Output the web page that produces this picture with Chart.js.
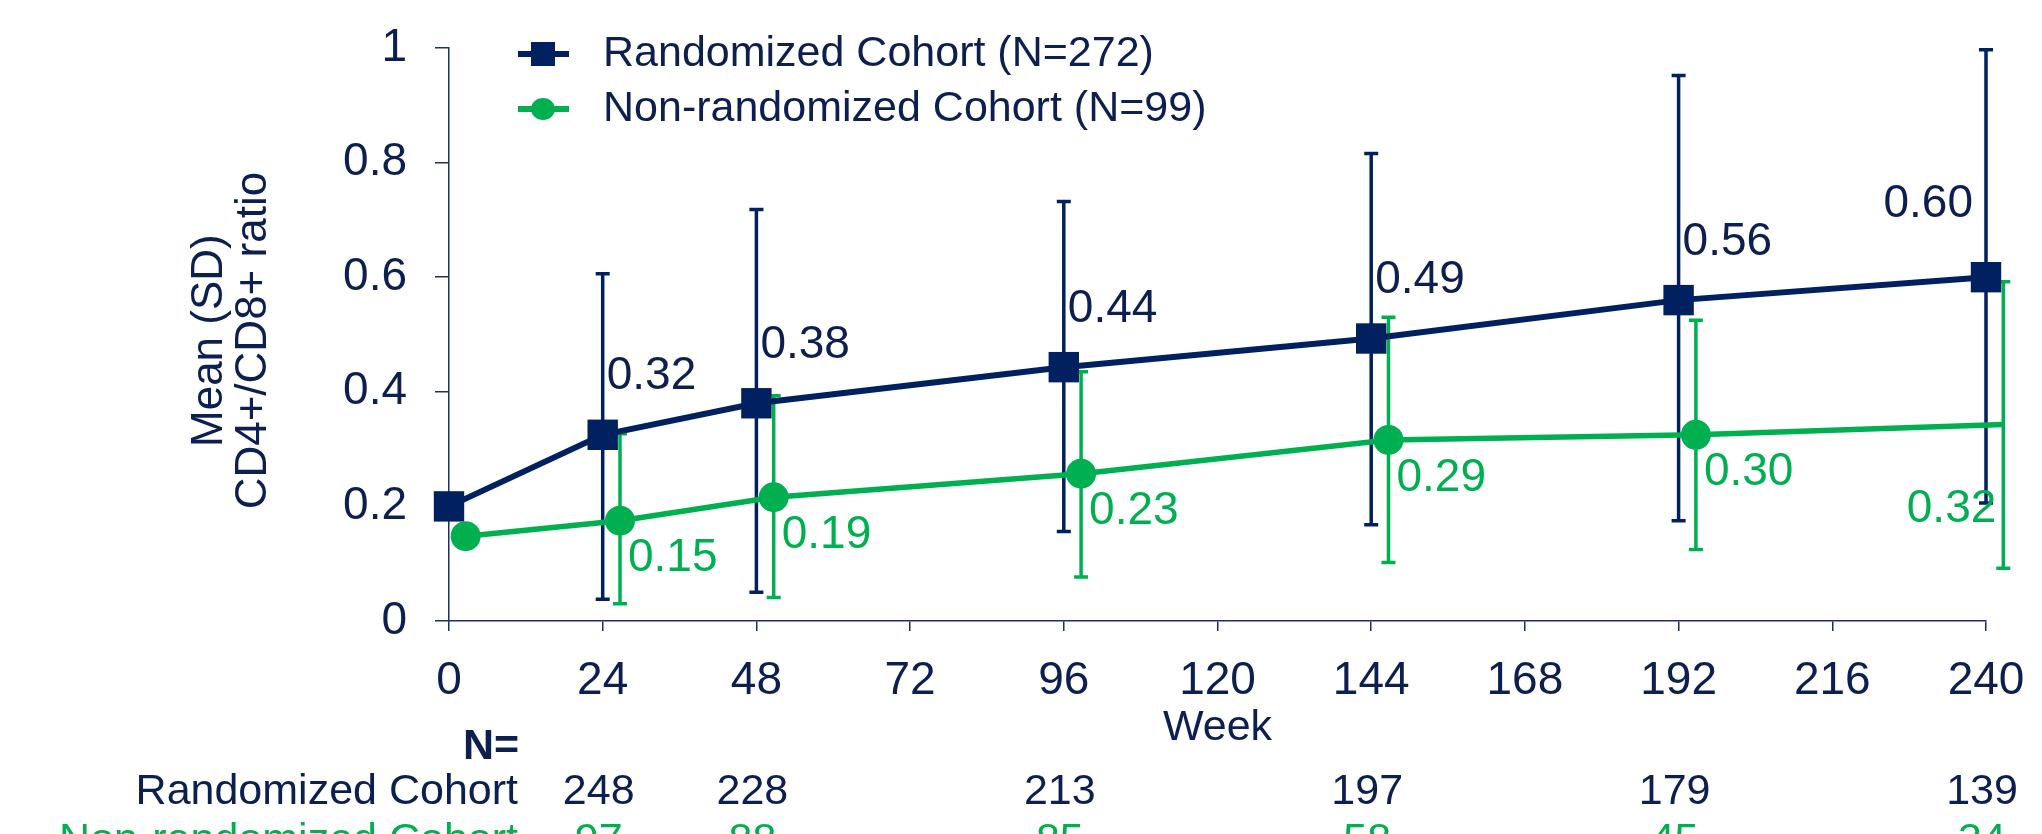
<!DOCTYPE html>
<html>
<head>
<meta charset="utf-8">
<script src="https://cdn.jsdelivr.net/npm/chart.js@4.4.0/dist/chart.umd.min.js"></script>
<style>
    html, body { margin: 0; padding: 0; background: #fff; }
</style>
</head>
<body>
<canvas id="chart-item" width="2042" height="834"></canvas>
<script>
// axis ticks
var weekTicks = [0, 24, 48, 72, 96, 120, 144, 168, 192, 216, 240];
var yTickLabels = ['0', '0.2', '0.4', '0.6', '0.8', '1'];

// Randomized Cohort (N=272)
var randWeeks = [0, 24, 48, 96, 144, 192, 240];
var randMean = [0.20, 0.325, 0.38, 0.443, 0.493, 0.56, 0.60];
var randLow = [null, 0.038, 0.05, 0.156, 0.168, 0.175, 0.206];
var randHigh = [null, 0.606, 0.718, 0.732, 0.816, 0.952, 0.997];
var randLabels = ['', '0.32', '0.38', '0.44', '0.49', '0.56', '0.60'];

// Non-randomized Cohort (N=99), drawn slightly to the right of each week
var nonRandWeeks = [2.6, 26.7, 50.7, 98.7, 146.7, 194.7, 242.7];
var nonRandMean = [0.148, 0.175, 0.216, 0.257, 0.316, 0.325, 0.343];
var nonRandLow = [null, 0.03, 0.041, 0.077, 0.102, 0.125, 0.092];
var nonRandHigh = [null, 0.327, 0.393, 0.435, 0.53, 0.525, 0.592];
var nonRandLabels = ['', '0.15', '0.19', '0.23', '0.29', '0.30', '0.32'];

// numbers at risk
var nTableWeeks = [24, 48, 96, 144, 192, 240];
var nRandomized = [248, 228, 213, 197, 179, 139];
var nNonRandomized = [97, 88, 85, 58, 45, 34];

var NAVY = '#002060';
var GREEN = '#00b050';
var TEXT = '#0c1f4f';
var FONT = '"Liberation Sans", Arial, Helvetica, sans-serif';

function toPoints(xs, ys) {
    var out = [];
    for (var i = 0; i < xs.length; i++) {
        out.push({x: xs[i], y: ys[i]});
    }
    return out;
}

// keep the plot box where the layout padding puts it
function noScalePadding(scale) {
    scale.paddingTop = 0;
    scale.paddingBottom = 0;
    scale.paddingLeft = 0;
    scale.paddingRight = 0;
}

// error bars, drawn under the lines
var errorBarPlugin = {
    id: 'errorBars',
    beforeDatasetsDraw: function (chart) {
        var ctx = chart.ctx;
        var xs = chart.scales.x, ys = chart.scales.y;
        var sets = [
            {w: nonRandWeeks, lo: nonRandLow, hi: nonRandHigh, color: GREEN},
            {w: randWeeks, lo: randLow, hi: randHigh, color: NAVY}
        ];
        ctx.save();
        sets.forEach(function (s) {
            ctx.strokeStyle = s.color;
            ctx.lineWidth = 3.5;
            for (var i = 0; i < s.w.length; i++) {
                if (s.lo[i] === null) continue;
                var px = xs.getPixelForValue(s.w[i]);
                var y1 = ys.getPixelForValue(s.lo[i]);
                var y2 = ys.getPixelForValue(s.hi[i]);
                ctx.beginPath();
                ctx.moveTo(px, y1); ctx.lineTo(px, y2);
                ctx.moveTo(px - 7, y1); ctx.lineTo(px + 7, y1);
                ctx.moveTo(px - 7, y2); ctx.lineTo(px + 7, y2);
                ctx.stroke();
            }
        });
        ctx.restore();
    }
};

// value labels next to the points
var valueLabelPlugin = {
    id: 'valueLabels',
    afterDatasetsDraw: function (chart) {
        var ctx = chart.ctx;
        ctx.save();
        ctx.font = '46px ' + FONT;
        ctx.textBaseline = 'middle';
        var rand = chart.getDatasetMeta(1).data;
        ctx.fillStyle = TEXT;
        for (var i = 0; i < rand.length; i++) {
            if (!randLabels[i]) continue;
            if (i === rand.length - 1) {
                ctx.textAlign = 'right';
                ctx.fillText(randLabels[i], rand[i].x - 13, rand[i].y - 73);
            } else {
                ctx.textAlign = 'left';
                ctx.fillText(randLabels[i], rand[i].x + 4, rand[i].y - 58);
            }
        }
        var nonRand = chart.getDatasetMeta(0).data;
        ctx.fillStyle = GREEN;
        for (var j = 0; j < nonRand.length; j++) {
            if (!nonRandLabels[j]) continue;
            if (j === nonRand.length - 1) {
                ctx.textAlign = 'right';
                ctx.fillText(nonRandLabels[j], nonRand[j].x - 7, nonRand[j].y + 85);
            } else {
                ctx.textAlign = 'left';
                ctx.fillText(nonRandLabels[j], nonRand[j].x + 8, nonRand[j].y + 38);
            }
        }
        ctx.restore();
    }
};

// legend in the top left of the plot
var legendPlugin = {
    id: 'legendBox',
    afterDraw: function (chart) {
        var ctx = chart.ctx;
        var rows = [
            {text: chart.data.datasets[1].label, color: NAVY, style: 'rect', y: 54},
            {text: chart.data.datasets[0].label, color: GREEN, style: 'circle', y: 109}
        ];
        ctx.save();
        rows.forEach(function (r) {
            ctx.strokeStyle = r.color;
            ctx.fillStyle = r.color;
            ctx.lineWidth = 6;
            ctx.beginPath();
            ctx.moveTo(518, r.y); ctx.lineTo(569, r.y);
            ctx.stroke();
            if (r.style === 'rect') {
                ctx.fillRect(543 - 12, r.y - 12, 24, 24);
            } else {
                ctx.beginPath();
                ctx.ellipse(543, r.y, 12, 11, 0, 0, Math.PI * 2);
                ctx.fill();
            }
            ctx.fillStyle = TEXT;
            ctx.font = '43px ' + FONT;
            ctx.textAlign = 'left';
            ctx.textBaseline = 'middle';
            ctx.fillText(r.text, 603, r.y);
        });
        ctx.restore();
    }
};

// N= table under the x axis
var nTablePlugin = {
    id: 'nTable',
    afterDraw: function (chart) {
        var ctx = chart.ctx;
        var xs = chart.scales.x;
        ctx.save();
        ctx.textBaseline = 'middle';
        ctx.fillStyle = TEXT;
        ctx.font = 'bold 43px ' + FONT;
        ctx.textAlign = 'center';
        ctx.fillText('N=', 491, 747);
        ctx.font = '43px ' + FONT;
        ctx.textAlign = 'right';
        ctx.fillText('Randomized Cohort', 518, 792);
        ctx.textAlign = 'center';
        for (var i = 0; i < nTableWeeks.length; i++) {
            ctx.fillText(String(nRandomized[i]), xs.getPixelForValue(nTableWeeks[i]) - 4, 792);
        }
        ctx.fillStyle = GREEN;
        ctx.textAlign = 'right';
        ctx.fillText('Non-randomized Cohort', 518, 841);
        ctx.textAlign = 'center';
        for (var j = 0; j < nTableWeeks.length; j++) {
            ctx.fillText(String(nNonRandomized[j]), xs.getPixelForValue(nTableWeeks[j]) - 4, 841);
        }
        ctx.restore();
    }
};

var ctx = document.getElementById('chart-item').getContext('2d');
var chart = new Chart(ctx, {
    type: 'line',
    data: {
        datasets: [{
            label: 'Non-randomized Cohort (N=99)',
            data: toPoints(nonRandWeeks, nonRandMean),
            borderColor: GREEN,
            backgroundColor: GREEN,
            borderWidth: 5.5,
            pointStyle: 'circle',
            pointRadius: 15,
            pointBorderWidth: 0,
            tension: 0
        }, {
            label: 'Randomized Cohort (N=272)',
            data: toPoints(randWeeks, randMean),
            borderColor: NAVY,
            backgroundColor: NAVY,
            borderWidth: 6,
            pointStyle: 'rect',
            pointRadius: 21.5,
            pointBorderWidth: 0,
            tension: 0
        }]
    },
    options: {
        responsive: false,
        animation: false,
        clip: false,
        layout: {
            padding: {left: 0, top: 48, right: 56, bottom: 80}
        },
        plugins: {
            legend: {display: false},
            tooltip: {enabled: false}
        },
        scales: {
            x: {
                type: 'linear',
                min: 0,
                max: 240,
                afterBuildTicks: function (scale) {
                    scale.ticks = weekTicks.map(function (v) { return {value: v}; });
                },
                afterFit: function (scale) {
                    scale.height = 133;
                    noScalePadding(scale);
                },
                ticks: {
                    color: TEXT,
                    font: {family: FONT, size: 46},
                    padding: 23,
                    maxRotation: 0,
                    callback: function (value) { return String(value); }
                },
                grid: {
                    display: true,
                    drawOnChartArea: false,
                    drawTicks: true,
                    tickLength: 10,
                    color: '#1f2f5f',
                    lineWidth: 1.5
                },
                border: {display: true, color: '#1f2f5f', width: 1.5},
                title: {
                    display: true,
                    text: 'Week',
                    color: TEXT,
                    font: {family: FONT, size: 43, lineHeight: 1.2},
                    padding: 0
                }
            },
            y: {
                min: 0,
                max: 1,
                ticks: {
                    stepSize: 0.2,
                    color: TEXT,
                    font: {family: FONT, size: 46},
                    padding: 28,
                    callback: function (value, index) { return yTickLabels[index]; }
                },
                afterFit: function (scale) {
                    scale.width = 449;
                    noScalePadding(scale);
                },
                grid: {
                    display: true,
                    drawOnChartArea: false,
                    drawTicks: true,
                    tickLength: 14,
                    color: '#1f2f5f',
                    lineWidth: 1.5
                },
                border: {display: true, color: '#1f2f5f', width: 1.5},
                title: {
                    display: true,
                    text: ['Mean (SD) ', 'CD4+/CD8+ ratio '],
                    color: TEXT,
                    font: {family: FONT, size: 44, lineHeight: 1.0},
                    padding: {top: 188, bottom: 0}
                }
            }
        }
    },
    plugins: [errorBarPlugin, valueLabelPlugin, legendPlugin, nTablePlugin]
});
</script>
</body>
</html>
